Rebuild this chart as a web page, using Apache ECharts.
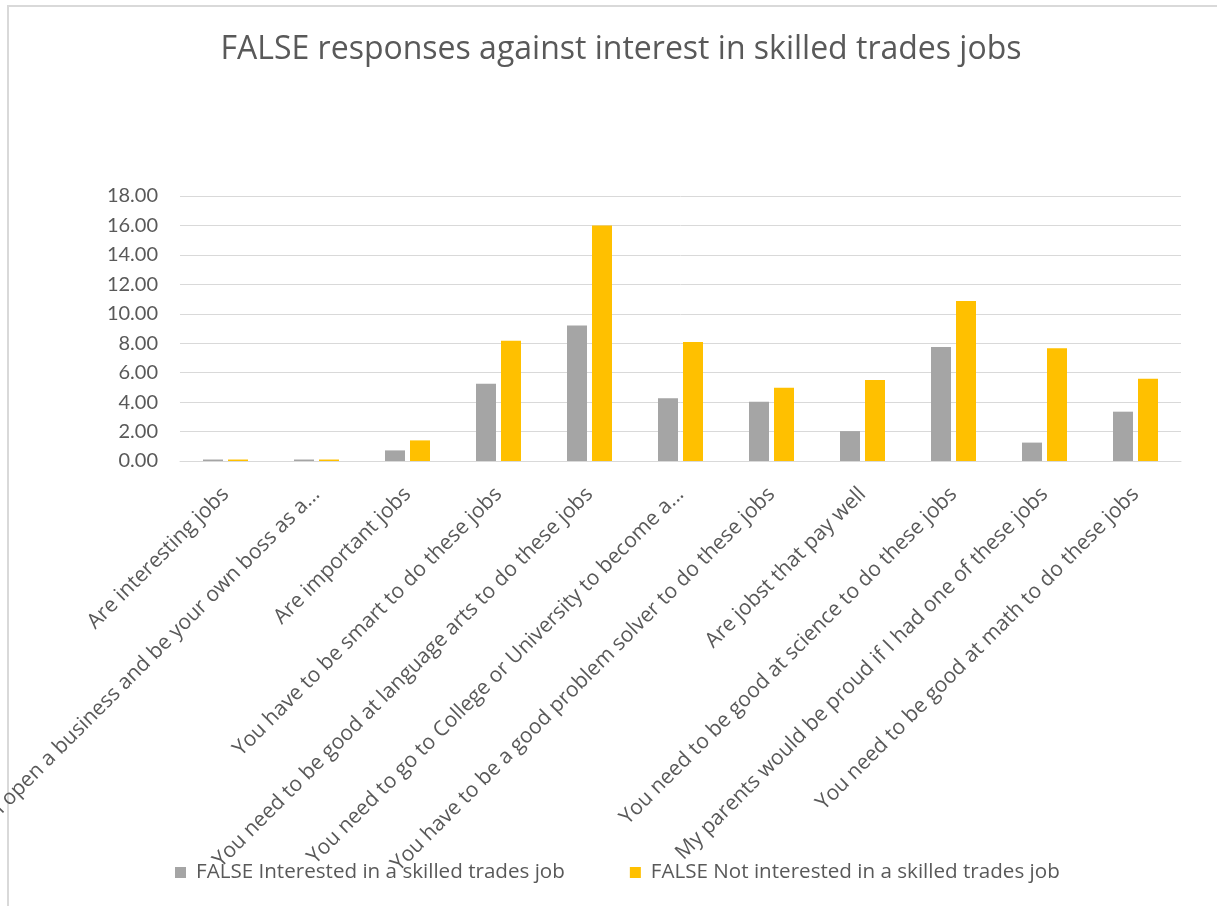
<!DOCTYPE html>
<html>
<head>
<meta charset="utf-8">
<title>FALSE responses against interest in skilled trades jobs</title>
<script src="https://cdn.jsdelivr.net/npm/echarts@6/dist/echarts.min.js"></script>
<style>
  html, body { margin: 0; padding: 0; background: #ffffff; }
  #frame {
    position: absolute; left: 7px; top: 5px; width: 1400px; height: 1100px;
    border: 2px solid #d9d9d9; box-sizing: border-box;
  }
  #chart { position: absolute; left: 0; top: 0; width: 1217px; height: 906px; }
</style>
</head>
<body>
<div id="frame"></div>
<div id="chart"></div>
<script>
// Survey statements (x axis)
const categories = [
  "Are interesting jobs",
  "You can open a business and be your own boss as a...",
  "Are important jobs",
  "You have to be smart to do these jobs",
  "You need to be good at language arts to do these jobs",
  "You need to go to College or University to become a...",
  "You have to be a good problem solver to do these jobs",
  "Are jobst that pay well",
  "You need to be good at science to do these jobs",
  "My parents would be proud if I had one of these jobs",
  "You need to be good at math to do these jobs"
];

const seriesNames = [
  "FALSE Interested in a skilled trades job",
  "FALSE Not interested in a skilled trades job"
];

// FALSE responses, students interested in skilled trades
const interested = [0.1, 0.1, 0.72, 5.24, 9.2, 4.27, 4.02, 2.03, 7.75, 1.25, 3.35];
// FALSE responses, students not interested in skilled trades
const notInterested = [0.1, 0.1, 1.4, 8.17, 16.0, 8.09, 4.97, 5.51, 10.87, 7.66, 5.58];

const yTicks = { min: 0, max: 18, interval: 2 };

const textColor = "#595959";
const gridColor = "#d9d9d9";
const font = "'Open Sans', Lato, sans-serif";
const numFont = "Lato, 'Open Sans', sans-serif";

const chart = echarts.init(document.getElementById("chart"), null, { renderer: "canvas" });

chart.setOption({
  animation: false,
  title: {
    text: "FALSE responses against interest in skilled trades jobs",
    left: 616,
    textAlign: "center",
    top: 29,
    textStyle: { color: textColor, fontFamily: font, fontSize: 32, fontWeight: "normal" }
  },
  legend: {
    data: seriesNames,
    left: 170,
    top: 857,
    itemWidth: 11,
    itemHeight: 11,
    itemGap: 65,
    icon: "rect",
    textStyle: { color: textColor, fontFamily: font, fontSize: 20.6, padding: [0, 0, 0, 5] }
  },
  grid: {
    left: 180, right: 36, top: 196, bottom: 445,
    containLabel: false,
    outerBoundsMode: "none"
  },
  xAxis: {
    type: "category",
    data: categories,
    axisLine: { show: true, lineStyle: { color: gridColor, width: 1 } },
    axisTick: { show: false },
    axisLabel: {
      interval: 0,
      rotate: 45,
      margin: 30,
      color: textColor,
      fontFamily: font,
      fontSize: 21
    }
  },
  yAxis: {
    type: "value",
    min: yTicks.min,
    max: yTicks.max,
    interval: yTicks.interval,
    axisLine: { show: false },
    axisTick: { show: false },
    splitLine: { lineStyle: { color: gridColor, width: 1 } },
    axisLabel: {
      margin: 22,
      color: textColor,
      fontFamily: numFont,
      fontSize: 20,
      formatter: v => v.toFixed(2)
    }
  },
  series: [
    {
      name: seriesNames[0],
      type: "bar",
      data: interested,
      barWidth: 20,
      barGap: "25%",
      itemStyle: { color: "#a5a5a5" }
    },
    {
      name: seriesNames[1],
      type: "bar",
      data: notInterested,
      barWidth: 20,
      itemStyle: { color: "#ffc000" }
    }
  ]
});
</script>
</body>
</html>
